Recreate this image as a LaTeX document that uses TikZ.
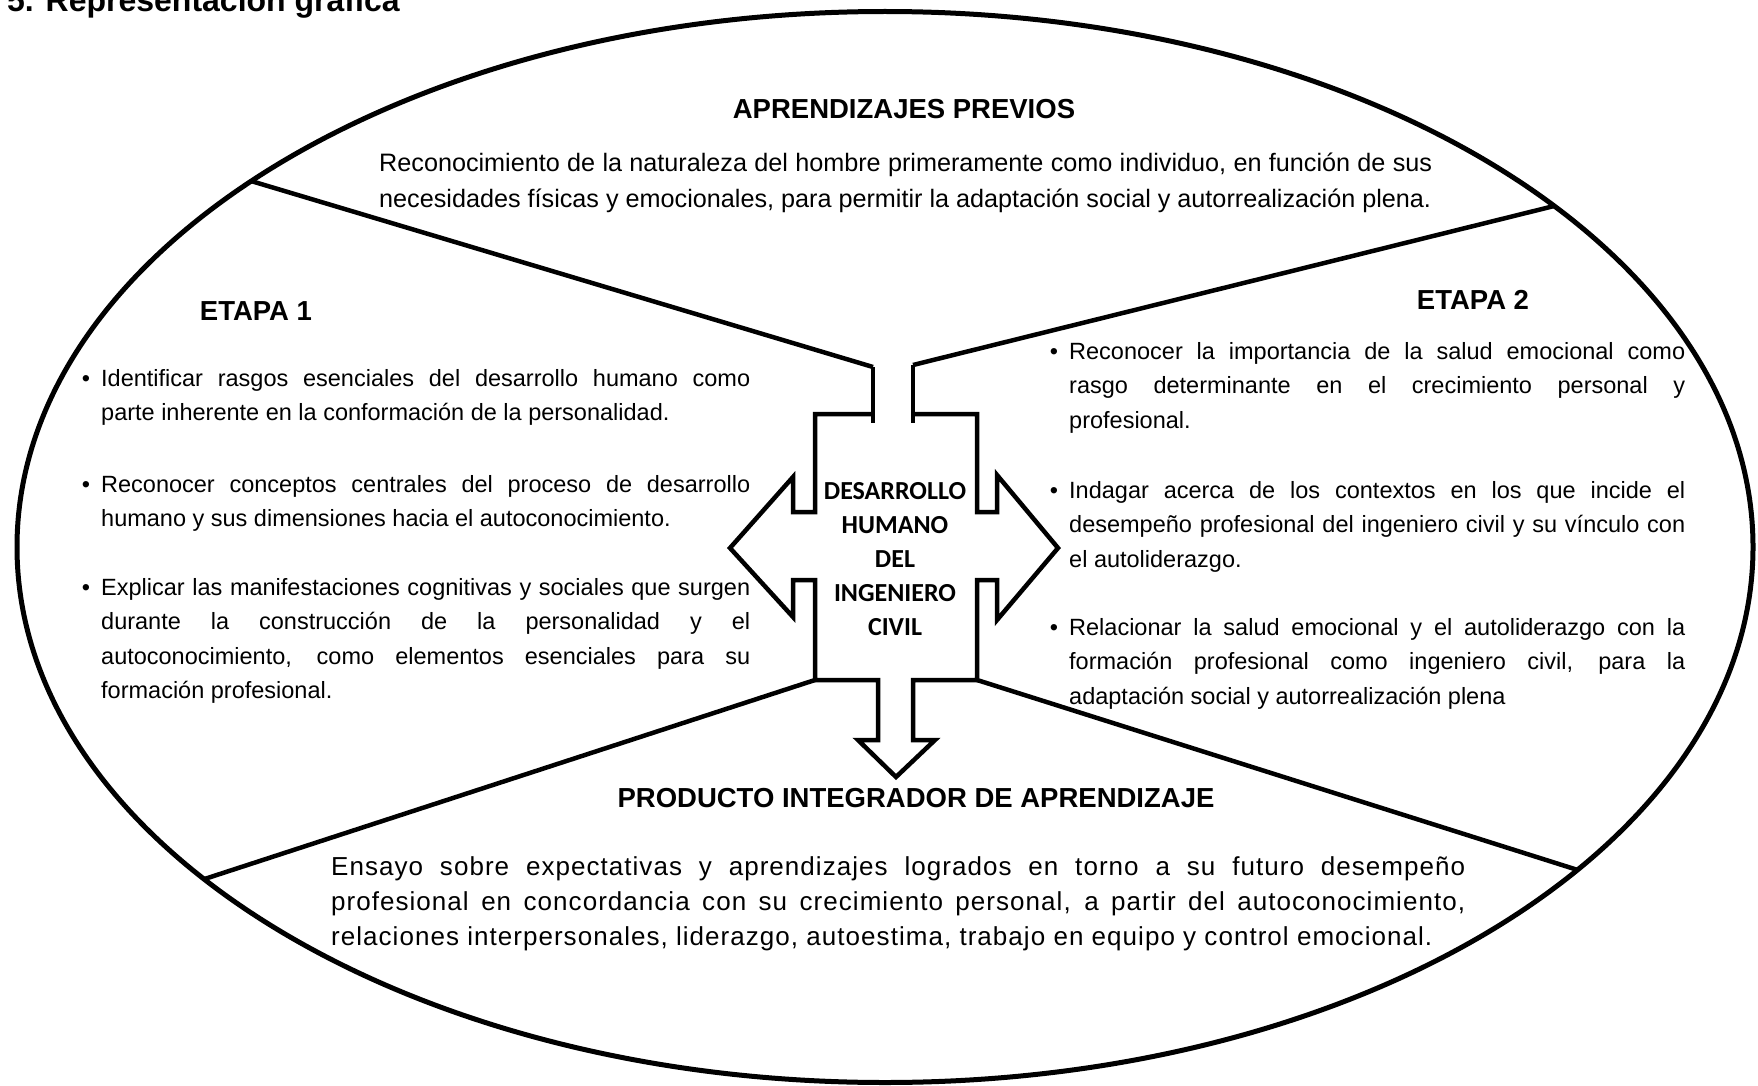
\documentclass[tikz,border=0pt]{standalone}
\usepackage{fontspec}
\setmainfont{Liberation Sans}
\newfontfamily\calfont{Carlito}
\newfontfamily\widefont[LetterSpace=4]{Liberation Sans}
\usetikzlibrary{positioning,shapes.geometric}

\newcommand{\dotitem}{\makebox[0pt][r]{\textbullet\hspace{11pt}}}

\begin{document}
\begin{tikzpicture}[
    x=1pt, y=-1pt,
    rim/.style={ellipse, draw, line width=5pt, inner sep=0pt, outer sep=0pt},
    wall/.style={draw, line width=4.5pt},
    heading/.style={font=\bfseries\fontsize{27.5}{33}\selectfont, inner sep=0pt},
    body/.style={font=\fontsize{23.5}{34.5}\selectfont, inner sep=0pt, align=justify, anchor=base west},
    core/.style={font=\calfont\bfseries\fontsize{26}{34}\selectfont, align=center, inner sep=0pt}
]
\useasboundingbox (0,0) rectangle (1758,1086);

% Outer oval
\node[rim, minimum width=1736pt, minimum height=1071pt] (rim) at (885,547) {};
\node[anchor=base west, inner sep=0pt, font=\bfseries\fontsize{32}{36}\selectfont] (caption) at (7,12) {5. Representación gráfica};

% Junctions of the walls
\coordinate (jtl) at (873,367);
\coordinate (jtr) at (913,365);
\coordinate (jbl) at (815,680);
\coordinate (jbr) at (977,680);

% Walls
\foreach \a/\j in {150.5/jtl, 27.5/jtr, 206.2/jbl, 335.1/jbr}
    \draw[wall] (rim.\a) -- (\j);
\draw[wall] (jtl) -- (873,423);
\draw[wall] (jtr) -- (913,423);

% Central arrow
\draw[wall] (873,414) -- (815,414) -- (815,512) -- (793,512) -- (793,477) -- (730,548)
    -- (793,617) -- (793,580) -- (815,580) -- (jbl) -- (878,680) -- (878,740) -- (858,740)
    -- (896,777) -- (935,740) -- (913,740) -- (913,680) -- (jbr) -- (977,580) -- (997,580)
    -- (997,620) -- (1058,548) -- (997,475) -- (997,512) -- (977,512) -- (977,414) -- (913,414);
\node[core] (centre) at (895,559) {DESARROLLO\\HUMANO\\DEL\\INGENIERO\\CIVIL};

% Aprendizajes previos
\node[heading] (prev) at (904,109) {APRENDIZAJES PREVIOS};
\node[body, text width=1053pt, font=\fontsize{25.2}{35.5}\selectfont] (prevtxt) at (379,172) {Reconocimiento de la naturaleza del hombre primeramente como individuo, en función de sus\linebreak necesidades físicas y emocionales, para permitir la adaptación social y autorrealización plena.};

% Etapa 1
\node[heading] (etapa1) at (256,311) {ETAPA 1};
\node[body, text width=649pt] (e1a) at (101,386) {\dotitem Identificar rasgos esenciales del desarrollo humano como\linebreak parte inherente en la conformación de la personalidad.};
\node[body, text width=649pt] (e1b) at (101,492) {\dotitem Reconocer conceptos centrales del proceso de desarrollo\linebreak humano y sus dimensiones hacia el autoconocimiento.};
\node[body, text width=649pt] (e1c) at (101,595) {\dotitem Explicar las manifestaciones cognitivas y sociales que surgen\linebreak durante la construcción de la personalidad y el\linebreak autoconocimiento, como elementos esenciales para su\linebreak formación profesional.};

% Etapa 2
\node[heading] (etapa2) at (1473,300) {ETAPA 2};
\node[body, text width=616pt] (e2a) at (1069,359) {\dotitem Reconocer la importancia de la salud emocional como\linebreak rasgo determinante en el crecimiento personal y\linebreak profesional.};
\node[body, text width=616pt] (e2b) at (1069,498) {\dotitem Indagar acerca de los contextos en los que incide el\linebreak desempeño profesional del ingeniero civil y su vínculo con\linebreak el autoliderazgo.};
\node[body, text width=616pt] (e2c) at (1069,635) {\dotitem Relacionar la salud emocional y el autoliderazgo con la\linebreak formación profesional como ingeniero civil, para la\linebreak adaptación social y autorrealización plena};

% Producto integrador
\node[heading] (pia) at (916,798) {PRODUCTO INTEGRADOR DE APRENDIZAJE};
\node[body, text width=1134pt, font=\widefont\fontsize{26}{35}\selectfont] (piatxt) at (331,875) {Ensayo sobre expectativas y aprendizajes logrados en torno a su futuro desempeño\linebreak profesional en concordancia con su crecimiento personal, a partir del autoconocimiento,\linebreak relaciones interpersonales, liderazgo, autoestima, trabajo en equipo y control emocional.};

\end{tikzpicture}
\end{document}
